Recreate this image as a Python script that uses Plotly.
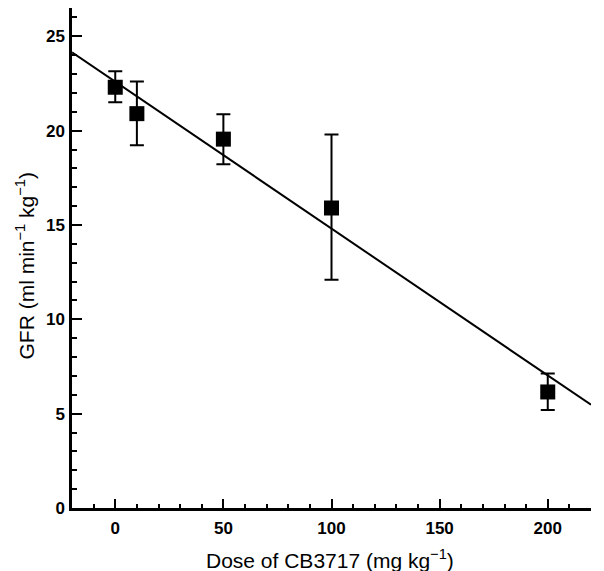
import plotly.graph_objects as go

# Data
dose = [0, 10, 50, 100, 200]
gfr = [22.3, 20.9, 19.55, 15.9, 6.15]
err_plus = [0.85, 1.7, 1.32, 3.9, 0.98]
err_minus = [0.8, 1.68, 1.33, 3.8, 0.95]

# Regression line endpoints (across the axis range)
fit_x = [-20, 220]
fit_y = [24.15, 5.47]

x_ticks = [0, 50, 100, 150, 200]
y_ticks = [0, 5, 10, 15, 20, 25]

fig = go.Figure()
fig.add_trace(go.Scatter(x=fit_x, y=fit_y, mode="lines",
                         line=dict(color="black", width=2), showlegend=False,
                         hoverinfo="skip"))
fig.add_trace(go.Scatter(
    x=dose, y=gfr, mode="markers",
    marker=dict(symbol="square", size=15, color="black", line=dict(width=0)),
    error_y=dict(type="data", array=err_plus, arrayminus=err_minus,
                 color="black", thickness=2, width=7),
    showlegend=False))

tickfont = dict(family="Liberation Sans, Arial, sans-serif", size=17, color="black", weight="bold")
titlefont = dict(family="Liberation Sans, Arial, sans-serif", size=21, color="black")

# page body has an 8px default margin, so the figure is 8px smaller than the window
fig.update_layout(
    width=596, height=563,
    margin=dict(l=64, r=13, t=0, b=63),
    paper_bgcolor="white", plot_bgcolor="white",
    xaxis=dict(range=[-20, 220], tickvals=x_ticks, ticktext=[str(v) for v in x_ticks],
               showgrid=False, zeroline=False, showline=True, linecolor="black", linewidth=2.5,
               ticks="inside", ticklen=9, tickwidth=2, tickcolor="black",
               minor=dict(dtick=10, tick0=0, ticks="inside", ticklen=4, tickwidth=2, tickcolor="black"),
               tickfont=tickfont, ticklabelstandoff=3),
    yaxis=dict(range=[0, 26.5], tickvals=y_ticks, ticktext=[str(v) for v in y_ticks],
               showgrid=False, zeroline=False, showline=True, linecolor="black", linewidth=2.5,
               ticks="inside", ticklen=10, tickwidth=2, tickcolor="black",
               minor=dict(dtick=1, tick0=0, ticks="inside", ticklen=5, tickwidth=2, tickcolor="black"),
               tickfont=tickfont, ticklabelstandoff=1),
    annotations=[
        dict(text="Dose of CB3717 (mg kg<sup>\u22121</sup>)", xref="paper", yref="paper",
             x=0.498, y=-0.102, xanchor="center", yanchor="middle", showarrow=False,
             font=titlefont),
        dict(text="GFR (ml min<sup>\u22121</sup> kg<sup>\u22121</sup>)", xref="paper", yref="paper",
             x=-0.0906, y=0.485, xanchor="center", yanchor="middle", textangle=-90,
             showarrow=False, font=titlefont),
    ],
)

fig.write_html("out.html")
